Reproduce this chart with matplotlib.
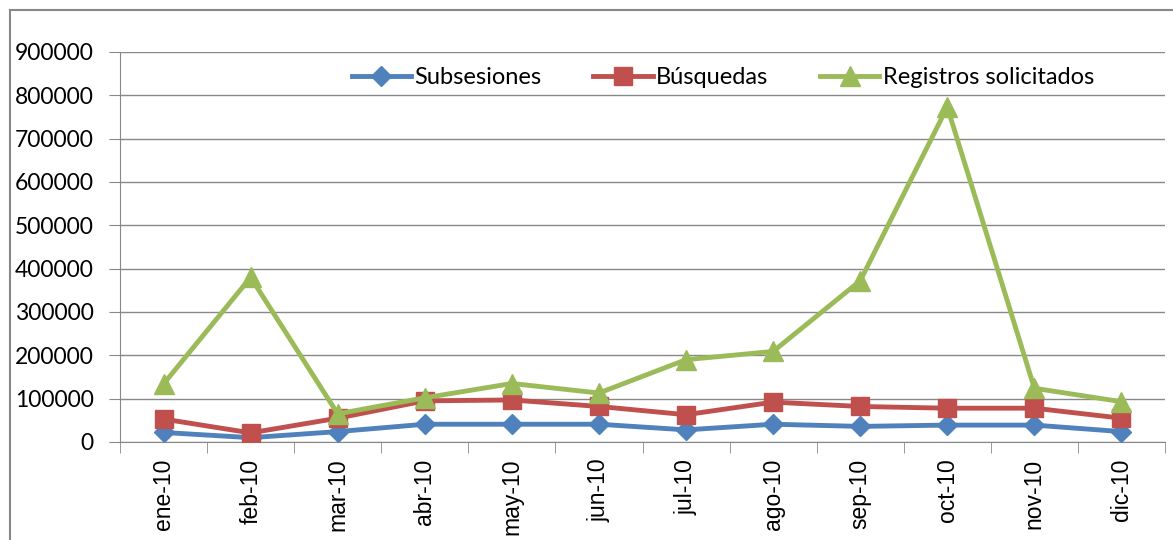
import matplotlib
matplotlib.use("Agg")
import matplotlib.pyplot as plt
from matplotlib.lines import Line2D

months = ["ene-10", "feb-10", "mar-10", "abr-10", "may-10", "jun-10",
          "jul-10", "ago-10", "sep-10", "oct-10", "nov-10", "dic-10"]
subsesiones = [22000, 10000, 24000, 41000, 41000, 41000, 28000, 41000, 36000, 39000, 39000, 24000]
busquedas = [53000, 21000, 55000, 95000, 97000, 82000, 63000, 92000, 82000, 78000, 78000, 55000]
registros = [134000, 380000, 65000, 102000, 135000, 113000, 190000, 209000, 372000, 773000, 124000, 93000]
yticks = [0, 100000, 200000, 300000, 400000, 500000, 600000, 700000, 800000, 900000]

plt.rcParams['font.family'] = ['Lato', 'DejaVu Sans']

fig = plt.figure(figsize=(11.73, 5.4), dpi=100)
ax = fig.add_axes([120/1173, 1-442/540, 1045/1173, 390/540])

x = list(range(len(months)))
ax.plot(x, subsesiones, color="#4F81BD", lw=3.5, marker="D", ms=10, label="Subsesiones", zorder=3)
ax.plot(x, busquedas, color="#C0504D", lw=3.5, marker="s", ms=13, label="Búsquedas", zorder=4)
ax.plot(x, registros, color="#9BBB59", lw=3.5, marker="^", ms=15, label="Registros solicitados", zorder=5)

ax.set_xlim(-0.5, 11.5)
ax.set_ylim(0, 900000)
ax.set_yticks(yticks)
ax.set_yticklabels([str(v) for v in yticks], fontsize=16.5)
ax.set_xticks(x)
ax.set_xticklabels(months, rotation=90, fontsize=16.5, family=['Liberation Sans', 'DejaVu Sans'])
ax.set_xticks([i - 0.5 for i in range(len(months) + 1)], minor=True)
ax.tick_params(axis='x', which='major', length=0, pad=12)
ax.tick_params(axis='x', which='minor', length=8, color="#888888")
ax.tick_params(axis='y', length=8, color="#888888", pad=11)
ax.grid(axis='y', color="#888888", lw=1)
ax.set_axisbelow(True)
for s in ["top", "right"]:
    ax.spines[s].set_visible(False)
for s in ["left", "bottom"]:
    ax.spines[s].set_color("#888888")

ax.legend(loc="upper center", bbox_to_anchor=(0.577, 1.015), ncol=3, frameon=False,
          fontsize=17, handlelength=2.5, columnspacing=2.2, handletextpad=0.15)

fig.add_artist(Line2D([9.5/1173, 9.5/1173], [0, 1-10/540], color="#888888", lw=1.5, transform=fig.transFigure))
fig.add_artist(Line2D([9.5/1173, 1], [1-10/540, 1-10/540], color="#888888", lw=1.5, transform=fig.transFigure))

fig.savefig("out.png", dpi=100)
